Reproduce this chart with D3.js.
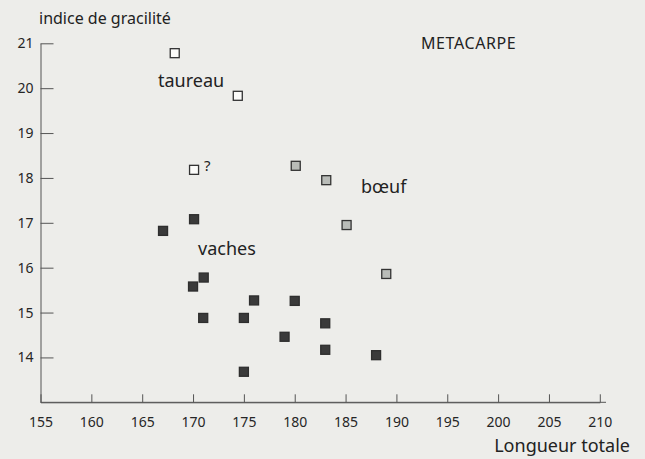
<!DOCTYPE html>
<html>
<head>
<meta charset="utf-8">
<script src="https://cdn.jsdelivr.net/npm/d3@7"></script>
<style>
  body { margin: 0; background: #ededea; }
  svg { display: block; }
  .axis text { font-family: "Noto Sans", sans-serif; font-size: 14px; fill: #262626; }
  .axis line, .axis path { stroke: #555; stroke-width: 1; }
</style>
</head>
<body>
<figure id="chart" style="margin:0"></figure>
<script>
// longueur totale / indice de gracilité
const taureau = [[168.2, 20.78], [174.4, 19.83], [170.1, 18.18]];
const boeuf = [[180.1, 18.27], [183.1, 17.95], [185.1, 16.95], [189.0, 15.86]];
const vaches = [
  [170.1, 17.08], [167.05, 16.82], [171.05, 15.78], [170.0, 15.58],
  [176.0, 15.27], [171.0, 14.88], [175.0, 14.88], [175.0, 13.68],
  [180.0, 15.26], [183.0, 14.76], [179.0, 14.46], [183.0, 14.17], [188.0, 14.05]
];
const xTicks = [155, 160, 165, 170, 175, 180, 185, 190, 195, 200, 205, 210];
const yTicks = [14, 15, 16, 17, 18, 19, 20, 21];

const width = 645, height = 459;

const svg = d3.select("figure#chart")
  .append("svg")
  .attr("width", width)
  .attr("height", height);

const x = d3.scaleLinear().domain([155, 210]).range([40.5, 599.8]);
const y = d3.scaleLinear().domain([13, 21]).range([402.3, 43.3]);

// axes
svg.append("g")
  .attr("class", "axis")
  .attr("transform", "translate(0," + y(13) + ")")
  .call(d3.axisBottom(x).tickValues(xTicks).tickSize(-8).tickSizeOuter(0).tickPadding(15));

svg.append("line")
  .attr("x1", x(155)).attr("x2", 606)
  .attr("y1", y(13)).attr("y2", y(13))
  .attr("stroke", "#555");

svg.append("g")
  .attr("class", "axis")
  .attr("transform", "translate(" + x(155) + ",0)")
  .call(d3.axisLeft(y).tickValues(yTicks).tickSize(-13).tickSizeOuter(0).tickPadding(7));

// squares
const size = 9;
function drawSquares(data, fill, stroke) {
  svg.append("g")
    .selectAll("rect")
    .data(data)
    .enter()
    .append("rect")
    .attr("x", d => x(d[0]) - size / 2)
    .attr("y", d => y(d[1]) - size / 2)
    .attr("width", size)
    .attr("height", size)
    .attr("fill", fill)
    .attr("stroke", stroke)
    .attr("stroke-width", 1.3);
}
drawSquares(taureau, "#fbfbf9", "#333");
drawSquares(boeuf, "#b9bcb8", "#333");
drawSquares(vaches, "#3a3a3a", "#2e2e2e");

// labels
const font = '"Noto Sans", sans-serif';
function label(txt, px, py, sizePx, anchor, spacing) {
  svg.append("text")
    .attr("x", px)
    .attr("y", py)
    .attr("text-anchor", anchor || "start")
    .attr("dominant-baseline", "middle")
    .style("font-family", font)
    .style("font-size", sizePx + "px")
    .style("letter-spacing", (spacing || 0) + "px")
    .style("fill", "#222")
    .text(txt);
}
label("indice de gracilité", 39, 20, 16);
label("METACARPE", 421, 45, 16, "start", 0.6);
label("taureau", 158, 82, 18);
label("?", 204, 167, 15);
label("bœuf", 361, 188, 18);
label("vaches", 198, 250, 18);
label("Longueur totale", 630, 447, 18, "end");
</script>
</body>
</html>
